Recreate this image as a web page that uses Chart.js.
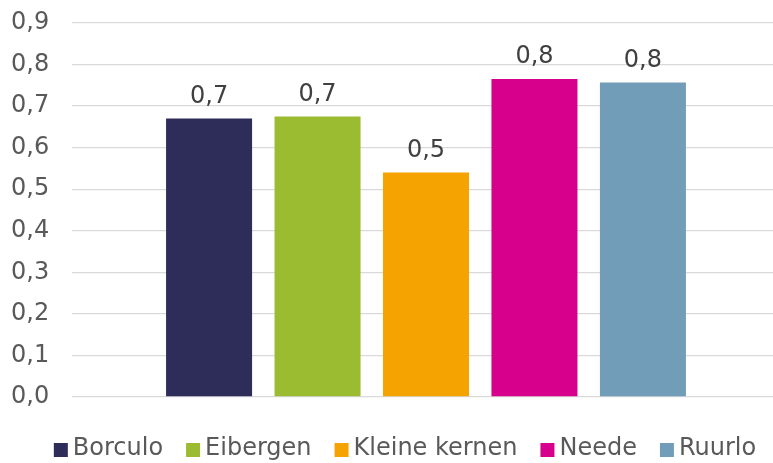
<!DOCTYPE html>
<html>
<head>
<meta charset="utf-8">
<script src="https://cdn.jsdelivr.net/npm/chart.js@4/dist/chart.umd.min.js"></script>
<style>
  html, body { margin: 0; padding: 0; background: #fff; overflow: hidden; }
  #wrap { width: 780px; height: 463px; }
</style>
</head>
<body>
<div id="wrap"><canvas id="chart"></canvas></div>
<script>
// kernen en hun waarde
const kernen = ['Borculo', 'Eibergen', 'Kleine kernen', 'Neede', 'Ruurlo'];
const waarden = [0.67, 0.675, 0.54, 0.765, 0.757];
const kleuren = ['#2e2d5a', '#9bbb30', '#f5a300', '#d6008c', '#729db8'];
const yTicks = [0, 0.1, 0.2, 0.3, 0.4, 0.5, 0.6, 0.7, 0.8, 0.9];

const lettertype = { family: 'DejaVu Sans', size: 24 };
const fontCss = '24px "DejaVu Sans"';

function komma(v) {
    return v.toFixed(1).replace('.', ',');
}

// waarde boven elke staaf
const labelsBoven = {
    id: 'labelsBoven',
    afterDatasetsDraw(chart) {
        const ctx = chart.ctx;
        ctx.save();
        ctx.font = fontCss;
        ctx.fillStyle = '#404040';
        ctx.textAlign = 'center';
        ctx.textBaseline = 'bottom';
        chart.data.datasets.forEach(function(ds, i) {
            const bar = chart.getDatasetMeta(i).data[0];
            ctx.fillText(komma(ds.data[0]), bar.x, bar.y - 10);
        });
        ctx.restore();
    }
};

// legenda onder de grafiek: vierkantje, tekst, ruimte
const legendaOnder = {
    id: 'legendaOnder',
    afterDraw(chart) {
        const ctx = chart.ctx;
        const box = 14, gat = 5, tussen = 23, midY = 450, midX = 405;
        ctx.save();
        ctx.font = fontCss;
        const breedtes = chart.data.datasets.map(ds => ctx.measureText(ds.label).width);
        let totaal = breedtes.reduce((a, b) => a + b, 0) + chart.data.datasets.length * (box + gat) + (chart.data.datasets.length - 1) * tussen;
        let x = midX - totaal / 2;
        ctx.textAlign = 'left';
        ctx.textBaseline = 'middle';
        chart.data.datasets.forEach(function(ds, i) {
            ctx.fillStyle = ds.backgroundColor;
            ctx.fillRect(x, midY - box / 2, box, box);
            x += box + gat;
            ctx.fillStyle = '#595959';
            ctx.fillText(ds.label, x, midY - 1);
            x += breedtes[i] + tussen;
        });
        ctx.restore();
    }
};

const ctx = document.getElementById('chart').getContext('2d');
new Chart(ctx, {
    type: 'bar',
    data: {
        labels: [''],
        datasets: kernen.map(function(naam, i) {
            return {
                label: naam,
                data: [waarden[i]],
                backgroundColor: kleuren[i],
                categoryPercentage: 0.766,
                barPercentage: 0.793
            };
        })
    },
    options: {
        responsive: true,
        maintainAspectRatio: false,
        animation: false,
        layout: { padding: { top: 23, right: 0, bottom: 66, left: 11 } },
        plugins: {
            legend: { display: false },
            tooltip: { enabled: false }
        },
        scales: {
            x: {
                ticks: { display: false },
                grid: { display: false },
                border: { display: false },
                afterFit: function(scale) { scale.height = 0; }
            },
            y: {
                min: 0,
                max: 0.9,
                afterBuildTicks: function(axis) {
                    axis.ticks = yTicks.map(function(v) { return { value: v }; });
                },
                afterFit: function(scale) { scale.width = 61; },
                ticks: {
                    font: lettertype,
                    color: '#595959',
                    padding: 0,
                    crossAlign: 'far',
                    callback: function(v) { return komma(v); }
                },
                grid: { color: '#d9d9d9', lineWidth: 1.3, drawTicks: false },
                border: { display: false }
            }
        }
    },
    plugins: [labelsBoven, legendaOnder]
});
</script>
</body>
</html>
